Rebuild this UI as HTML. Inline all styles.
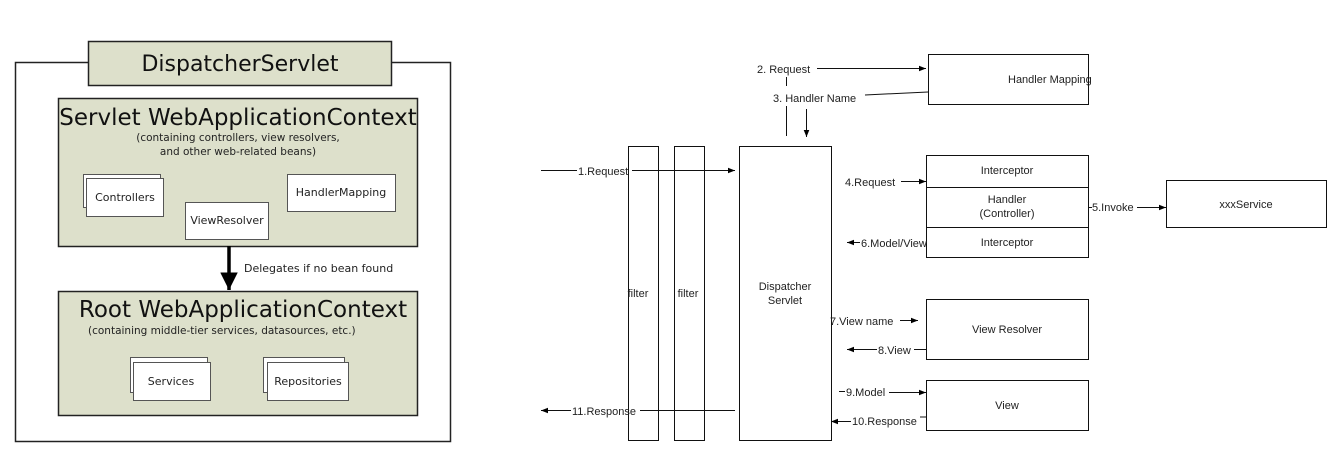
<!DOCTYPE html>
<html><head><meta charset="utf-8"><style>
html,body{margin:0;padding:0;background:#fff;}
svg{display:block;font-family:"DejaVu Sans","Liberation Sans",sans-serif;}
.a{font-family:"Liberation Sans",Arial,sans-serif;font-size:11px;fill:#222;}
</style></head><body>
<svg width="1344" height="451" viewBox="0 0 1344 451" xmlns="http://www.w3.org/2000/svg">
<defs>
<marker id="ah" viewBox="0 0 10 10" refX="10" refY="5" markerWidth="7" markerHeight="7" orient="auto-start-reverse"><path d="M0,1 L10,5 L0,9 Z" fill="#000"/></marker>
<marker id="big" viewBox="0 0 10 10" refX="10" refY="5" markerWidth="5" markerHeight="5" orient="auto"><path d="M0,0 L10,5 L0,10 Z" fill="#000"/></marker>
</defs>
<!-- LEFT -->
<rect x="15.5" y="62.5" width="435" height="379" fill="none" stroke="#222" stroke-width="1.5"/>
<rect x="88.5" y="41.5" width="303" height="44" fill="#dde0cb" stroke="#222" stroke-width="1.5"/>
<text x="240" y="71" font-size="22" text-anchor="middle" fill="#111">DispatcherServlet</text>
<rect x="58.5" y="98.5" width="359" height="148" fill="#dde0cb" stroke="#222" stroke-width="1.5"/>
<text x="238" y="125" font-size="23" text-anchor="middle" fill="#111">Servlet WebApplicationContext</text>
<text x="238" y="141" font-size="10.5" text-anchor="middle" fill="#222">(containing controllers, view resolvers,</text>
<text x="238" y="155" font-size="10.5" text-anchor="middle" fill="#222">and other web-related beans)</text>
<rect x="83.5" y="174.5" width="77" height="33" fill="#fff" stroke="#555"/>
<rect x="86.5" y="178.5" width="77" height="38" fill="#fff" stroke="#555"/>
<text x="125" y="201" font-size="11" text-anchor="middle" fill="#222">Controllers</text>
<rect x="185.5" y="202.5" width="83" height="37" fill="#fff" stroke="#555"/>
<text x="227" y="224" font-size="11" text-anchor="middle" fill="#222">ViewResolver</text>
<rect x="287.5" y="174.5" width="108" height="37" fill="#fff" stroke="#555"/>
<text x="341" y="196" font-size="11" text-anchor="middle" fill="#222">HandlerMapping</text>
<line x1="229" y1="246" x2="229" y2="290" stroke="#000" stroke-width="3.5" marker-end="url(#big)"/>
<text x="244" y="272" font-size="11" fill="#222">Delegates if no bean found</text>
<rect x="58.5" y="291.5" width="359" height="124" fill="#dde0cb" stroke="#222" stroke-width="1.5"/>
<text x="243" y="317" font-size="23" text-anchor="middle" fill="#111">Root WebApplicationContext</text>
<text x="88" y="334" font-size="10.5" fill="#222">(containing middle-tier services, datasources, etc.)</text>
<rect x="130.5" y="357.5" width="77" height="35" fill="#fff" stroke="#555"/>
<rect x="133.5" y="362.5" width="77" height="38" fill="#fff" stroke="#555"/>
<text x="171" y="385" font-size="11" text-anchor="middle" fill="#222">Services</text>
<rect x="263.5" y="357.5" width="81" height="35" fill="#fff" stroke="#555"/>
<rect x="267.5" y="362.5" width="81" height="38" fill="#fff" stroke="#555"/>
<text x="308" y="385" font-size="11" text-anchor="middle" fill="#222">Repositories</text>
<!-- RIGHT -->
<g stroke="#111" stroke-width="1" fill="none">
<rect x="628.5" y="146.5" width="30" height="294"/>
<rect x="674.5" y="146.5" width="30" height="294"/>
<rect x="739.5" y="146.5" width="92" height="294"/>
<rect x="928.5" y="54.5" width="160" height="50"/>
<rect x="926.5" y="155.5" width="162" height="102"/>
<line x1="926" y1="187.5" x2="1088" y2="187.5"/>
<line x1="926" y1="227.5" x2="1088" y2="227.5"/>
<rect x="1166.5" y="180.5" width="160" height="47"/>
<rect x="926.5" y="299.5" width="162" height="60"/>
<rect x="926.5" y="380.5" width="162" height="50"/>
</g>
<text class="a" x="638" y="297" text-anchor="middle" font-size="10">filter</text>
<text class="a" x="688" y="297" text-anchor="middle" font-size="10">filter</text>
<text class="a" x="785" y="290" text-anchor="middle" font-size="10">Dispatcher</text>
<text class="a" x="785" y="304" text-anchor="middle" font-size="10">Servlet</text>
<text class="a" x="1008" y="83">Handler Mapping</text>
<text class="a" x="1007" y="174" text-anchor="middle">Interceptor</text>
<text class="a" x="1007" y="203" text-anchor="middle">Handler</text>
<text class="a" x="1007" y="217" text-anchor="middle">(Controller)</text>
<text class="a" x="1007" y="246" text-anchor="middle">Interceptor</text>
<text class="a" x="1246" y="208" text-anchor="middle">xxxService</text>
<text class="a" x="1007" y="333" text-anchor="middle">View Resolver</text>
<text class="a" x="1007" y="409" text-anchor="middle">View</text>
<g stroke="#111" stroke-width="1" fill="none">
<line x1="541" y1="170.5" x2="577" y2="170.5"/>
<line x1="632" y1="170.5" x2="735" y2="170.5" marker-end="url(#ah)"/>
<line x1="817" y1="68.5" x2="926" y2="68.5" marker-end="url(#ah)"/>
<line x1="786.5" y1="77" x2="786.5" y2="86"/>
<line x1="786.5" y1="106" x2="786.5" y2="136"/>
<line x1="865" y1="95" x2="928" y2="92"/>
<line x1="806.5" y1="109" x2="806.5" y2="137" marker-end="url(#ah)"/>
<line x1="901" y1="181.5" x2="926" y2="181.5" marker-end="url(#ah)"/>
<line x1="1088" y1="207.5" x2="1092" y2="207.5"/>
<line x1="1137" y1="207.5" x2="1166" y2="207.5" marker-end="url(#ah)"/>
<line x1="860" y1="242.5" x2="847" y2="242.5" marker-end="url(#ah)"/>
<line x1="900" y1="320.5" x2="918" y2="320.5" marker-end="url(#ah)"/>
<line x1="877" y1="349.5" x2="847" y2="349.5" marker-end="url(#ah)"/>
<line x1="914" y1="349.5" x2="926" y2="349.5"/>
<line x1="839" y1="391.5" x2="845" y2="391.5"/>
<line x1="889" y1="392.5" x2="926" y2="392.5" marker-end="url(#ah)"/>
<line x1="851" y1="421.5" x2="831" y2="421.5" marker-end="url(#ah)"/>
<line x1="920" y1="417" x2="926" y2="417"/>
<line x1="571" y1="410.5" x2="541" y2="410.5" marker-end="url(#ah)"/>
<line x1="640" y1="410.5" x2="735" y2="410.5"/>
</g>
<text class="a" x="578" y="175">1.Request</text>
<text class="a" x="757" y="73">2. Request</text>
<text class="a" x="773" y="102">3. Handler Name</text>
<text class="a" x="845" y="186">4.Request</text>
<text class="a" x="1092" y="211">5.Invoke</text>
<text class="a" x="861" y="247">6.Model/View</text>
<text class="a" x="830" y="325">7.View name</text>
<text class="a" x="878" y="354">8.View</text>
<text class="a" x="846" y="396">9.Model</text>
<text class="a" x="852" y="425">10.Response</text>
<text class="a" x="572" y="415">11.Response</text>
</svg>
</body></html>
